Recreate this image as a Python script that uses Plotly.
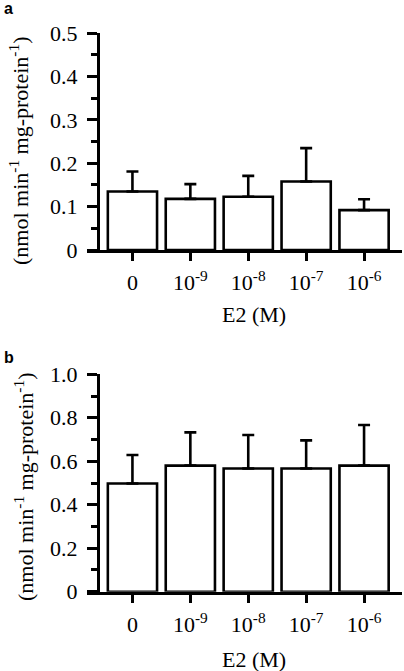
import plotly.graph_objects as go

categories = ["0", "10<sup>-9</sup>", "10<sup>-8</sup>", "10<sup>-7</sup>", "10<sup>-6</sup>"]
a_values = [0.135, 0.118, 0.123, 0.158, 0.092]
a_errors = [0.046, 0.034, 0.048, 0.077, 0.025]
b_values = [0.498, 0.580, 0.567, 0.567, 0.580]
b_errors = [0.131, 0.153, 0.154, 0.129, 0.187]
a_yticks = [0, 0.1, 0.2, 0.3, 0.4, 0.5]
a_yticklabels = ["0", "0.1", "0.2", "0.3", "0.4", "0.5"]
b_yticks = [0, 0.2, 0.4, 0.6, 0.8, 1.0]
b_yticklabels = ["0", "0.2", "0.4", "0.6", "0.8", "1.0"]
x_title = "E2 (M)"
y_title = "(nmol min<sup>-1</sup> mg-protein<sup>-1</sup>)"

W, H = 404, 671
def px(x):
    return x / W
def py(y):
    return 1 - y / H

FONT = "Liberation Serif, Times New Roman, serif"
fsize = 22
xpos = list(range(len(categories)))

fig = go.Figure()
for vals, errs, xa, ya in [(a_values, a_errors, "x", "y"), (b_values, b_errors, "x2", "y2")]:
    fig.add_trace(go.Bar(
        x=xpos, y=vals, width=0.85, xaxis=xa, yaxis=ya,
        marker=dict(color="white", line=dict(color="black", width=2.6)),
        error_y=dict(type="data", symmetric=False, array=errs,
                     arrayminus=[0] * len(errs), color="black",
                     thickness=2.6, width=6),
        showlegend=False, hoverinfo="skip",
    ))

xcommon = dict(
    range=[-0.79, 4.65], domain=[px(86.7), px(401.7)], automargin=False,
    tickmode="array", tickvals=xpos, ticktext=categories,
    showline=True, linecolor="black", linewidth=3,
    ticks="outside", ticklen=8, tickwidth=2.6, tickcolor="black",
    ticklabelstandoff=3,
    showgrid=False, zeroline=False, fixedrange=True,
    tickfont=dict(family=FONT, size=fsize, color="black"),
)
ycommon = dict(
    anchor="free", position=px(98), automargin=False,
    showline=True, linecolor="black", linewidth=3,
    ticks="outside", ticklen=10, tickwidth=2.6, tickcolor="black",
    ticklabelstandoff=5,
    showgrid=False, zeroline=False, fixedrange=True,
    tickfont=dict(family=FONT, size=fsize, color="black"),
)

fig.update_layout(
    width=W, height=H, margin=dict(l=0, r=0, t=0, b=0, autoexpand=False),
    paper_bgcolor="white", plot_bgcolor="white",
    xaxis=dict(anchor="y", **xcommon),
    xaxis2=dict(anchor="y2", **xcommon),
    yaxis=dict(domain=[py(250), py(33.3)], range=[0, 0.5],
               tickmode="array", tickvals=a_yticks, ticktext=a_yticklabels,
               minor=dict(ticks="outside", ticklen=6, tickwidth=2.6, tickcolor="black", dtick=0.05, tick0=0),
               **ycommon),
    yaxis2=dict(domain=[py(591.7), py(374.3)], range=[0, 1.0],
                tickmode="array", tickvals=b_yticks, ticktext=b_yticklabels,
                minor=dict(ticks="outside", ticklen=6, tickwidth=2.6, tickcolor="black", dtick=0.1, tick0=0),
                **ycommon),
    bargap=0.1,
)

anns = [
    dict(text="<b>a</b>", x=px(2), y=py(-2), xanchor="left", yanchor="top",
         font=dict(family="Liberation Sans, Arial, sans-serif", size=16, color="black")),
    dict(text="<b>b</b>", x=px(2), y=py(347), xanchor="left", yanchor="top",
         font=dict(family="Liberation Sans, Arial, sans-serif", size=16, color="black")),
    dict(text=x_title, x=px(254), y=py(314), xanchor="center", yanchor="middle",
         font=dict(family=FONT, size=fsize, color="black")),
    dict(text=x_title, x=px(254), y=py(659), xanchor="center", yanchor="middle",
         font=dict(family=FONT, size=fsize, color="black")),
    dict(text=y_title, x=px(19), y=py(151), xanchor="center", yanchor="middle",
         textangle=-90, font=dict(family=FONT, size=fsize, color="black")),
    dict(text=y_title, x=px(24), y=py(487), xanchor="center", yanchor="middle",
         textangle=-90, font=dict(family=FONT, size=fsize, color="black")),
]
for a in anns:
    a.update(xref="paper", yref="paper", showarrow=False)
fig.update_layout(annotations=anns)

fig.write_html("out.html", config={"displayModeBar": False},
               post_script="document.body.style.margin='0';document.body.style.overflow='hidden';")
